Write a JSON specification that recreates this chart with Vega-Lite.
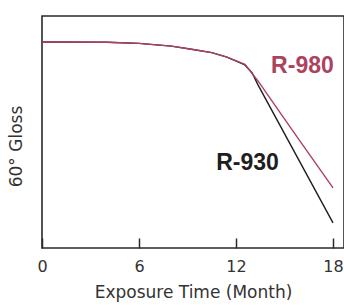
{
  "$schema": "https://vega.github.io/schema/vega-lite/v6.json",
  "width": 302,
  "height": 232,
  "autosize": "none",
  "padding": {"left": 42, "top": 16, "right": 0, "bottom": 57},
  "background": "white",
  "config": {
    "view": {"stroke": "#2a2a2a", "strokeWidth": 1.6},
    "font": "DejaVu Sans"
  },
  "datasets": {
    "curves": [
      {"month": 0, "gloss": 88.8, "series": "R-930"},
      {"month": 4, "gloss": 88.7, "series": "R-930"},
      {"month": 6, "gloss": 88.2, "series": "R-930"},
      {"month": 8, "gloss": 87.0, "series": "R-930"},
      {"month": 9.15, "gloss": 85.8, "series": "R-930"},
      {"month": 10.5, "gloss": 84.2, "series": "R-930"},
      {"month": 11.44, "gloss": 82.3, "series": "R-930"},
      {"month": 12.55, "gloss": 78.9, "series": "R-930"},
      {"month": 13.0, "gloss": 75.5, "series": "R-930"},
      {"month": 13.36, "gloss": 70.3, "series": "R-930"},
      {"month": 18, "gloss": 10.8, "series": "R-930"},
      {"month": 0, "gloss": 88.8, "series": "R-980"},
      {"month": 4, "gloss": 88.7, "series": "R-980"},
      {"month": 6, "gloss": 88.2, "series": "R-980"},
      {"month": 8, "gloss": 87.0, "series": "R-980"},
      {"month": 9.15, "gloss": 85.8, "series": "R-980"},
      {"month": 10.5, "gloss": 84.2, "series": "R-980"},
      {"month": 11.44, "gloss": 82.3, "series": "R-980"},
      {"month": 12.55, "gloss": 79.2, "series": "R-980"},
      {"month": 13.36, "gloss": 72.0, "series": "R-980"},
      {"month": 14.9, "gloss": 56.6, "series": "R-980"},
      {"month": 15.96, "gloss": 46.1, "series": "R-980"},
      {"month": 18, "gloss": 25.9, "series": "R-980"}
    ],
    "labels": [
      {"month": 16.11, "gloss": 75.4, "text": "R-980", "series": "R-980"},
      {"month": 12.71, "gloss": 33.6, "text": "R-930", "series": "R-930"}
    ]
  },
  "layer": [
    {
      "data": {"name": "curves"},
      "mark": {"type": "line", "strokeWidth": 1.4},
      "encoding": {
        "x": {
          "field": "month", "type": "quantitative",
          "scale": {"domain": [0, 18.68], "nice": false, "zero": false},
          "axis": {
            "values": [0, 6, 12, 18],
            "domain": false,
            "grid": false,
            "ticks": true,
            "tickSize": -10,
            "tickColor": "#2a2a2a",
            "tickWidth": 1.5,
            "labelFlush": false,
            "labelPadding": 20,
            "labelFontSize": 16,
            "labelColor": "#333",
            "labelFont": "DejaVu Sans",
            "title": "Exposure Time (Month)",
            "titleFont": "DejaVu Sans",
            "titleFontSize": 17,
            "titleFontWeight": "normal",
            "titleColor": "#333",
            "titlePadding": 10
          }
        },
        "y": {
          "field": "gloss", "type": "quantitative",
          "scale": {"domain": [0, 100], "nice": false},
          "axis": {
            "labels": false,
            "ticks": false,
            "domain": false,
            "grid": false,
            "title": "60°  Gloss",
            "titleFont": "DejaVu Sans",
            "titleFontSize": 17,
            "titleFontWeight": "normal",
            "titleColor": "#333",
            "titlePadding": 17,
            "titleY": 130
          }
        },
        "color": {
          "field": "series", "type": "nominal",
          "scale": {"domain": ["R-930", "R-980"], "range": ["#1e1e1e", "#ad4260"]},
          "legend": null
        },
        "order": {"field": "series"}
      }
    },
    {
      "data": {"name": "labels"},
      "mark": {"type": "text", "fontSize": 23, "fontWeight": "bold", "font": "Liberation Sans", "baseline": "alphabetic", "align": "center"},
      "encoding": {
        "x": {"field": "month", "type": "quantitative"},
        "y": {"field": "gloss", "type": "quantitative"},
        "text": {"field": "text"},
        "color": {
          "field": "series", "type": "nominal",
          "scale": {"domain": ["R-930", "R-980"], "range": ["#1e1e1e", "#9b3550"]},
          "legend": null
        }
      }
    }
  ]
}
